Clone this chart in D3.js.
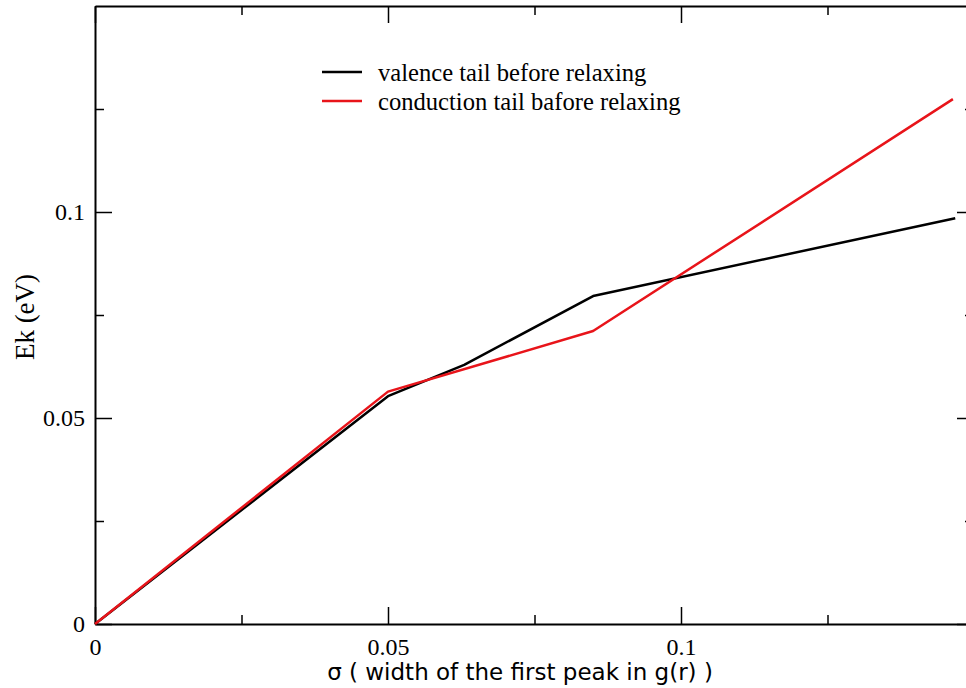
<!DOCTYPE html>
<html>
<head>
<meta charset="utf-8">
<script src="https://cdn.jsdelivr.net/npm/d3@7"></script>
<style>
  body { margin: 0; background: #fff; }
  svg { display: block; }
</style>
</head>
<body>
<script>
var w = 966; // canvas width
var h = 688; // canvas height

// series data: sigma (x) and Ek in eV (y)
var valenceX = [0, 0.05, 0.063, 0.085, 0.1468];
var valenceY = [0, 0.0553, 0.0629, 0.0796, 0.0985];
var conductionX = [0, 0.05, 0.085, 0.1464];
var conductionY = [0, 0.0564, 0.0711, 0.1274];

var seriesNames = ["valence tail before relaxing", "conduction tail bafore relaxing"];
var seriesColors = ["#000000", "#e8141a"];

var xMajor = [0, 0.05, 0.1];
var xMinor = [0.025, 0.075, 0.125];
var yMajor = [0, 0.05, 0.1];
var yMinor = [0.025, 0.075, 0.125];

var xScale = d3.scaleLinear().domain([0, 0.15]).range([95, 974]);
var yScale = d3.scaleLinear().domain([0, 0.15]).range([624, 6]);

var svg = d3.select("body").append("svg")
    .attr("width", w)
    .attr("height", h);

var fmt = function(d) { return d === 0 ? "0" : String(d); };

// bottom axis (ticks pointing inward)
svg.append("g")
    .attr("transform", "translate(0," + yScale(0) + ")")
    .call(d3.axisBottom(xScale).tickValues(xMajor).tickFormat(fmt).tickSizeInner(-17).tickSizeOuter(0).tickPadding(14))
    .call(function(g) {
        g.select(".domain").attr("stroke-width", 2);
        g.selectAll(".tick line").attr("stroke-width", 1.5);
        g.selectAll("text").attr("font-family", "Liberation Serif").attr("font-size", 24).attr("fill", "#000");
    });
svg.append("g")
    .attr("transform", "translate(0," + yScale(0) + ")")
    .call(d3.axisBottom(xScale).tickValues(xMinor).tickFormat("").tickSizeInner(-9).tickSizeOuter(0))
    .call(function(g) { g.select(".domain").remove(); g.selectAll(".tick line").attr("stroke-width", 1.5); });

// left axis
svg.append("g")
    .attr("transform", "translate(" + xScale(0) + ",0)")
    .call(d3.axisLeft(yScale).tickValues(yMajor).tickFormat(fmt).tickSizeInner(-17).tickSizeOuter(0).tickPadding(10))
    .call(function(g) {
        g.select(".domain").attr("stroke-width", 2);
        g.selectAll(".tick line").attr("stroke-width", 1.5);
        g.selectAll("text").attr("font-family", "Liberation Serif").attr("font-size", 24).attr("fill", "#000");
    });
svg.append("g")
    .attr("transform", "translate(" + xScale(0) + ",0)")
    .call(d3.axisLeft(yScale).tickValues(yMinor).tickFormat("").tickSizeInner(-9).tickSizeOuter(0))
    .call(function(g) { g.select(".domain").remove(); g.selectAll(".tick line").attr("stroke-width", 1.5); });

// top and right frame with inward ticks
svg.append("g")
    .attr("transform", "translate(0," + yScale(0.15) + ")")
    .call(d3.axisTop(xScale).tickValues(xMajor).tickFormat("").tickSizeInner(-17).tickSizeOuter(0))
    .call(function(g) { g.select(".domain").attr("stroke-width", 2); g.selectAll(".tick line").attr("stroke-width", 1.5); });
svg.append("g")
    .attr("transform", "translate(0," + yScale(0.15) + ")")
    .call(d3.axisTop(xScale).tickValues(xMinor).tickFormat("").tickSizeInner(-9).tickSizeOuter(0))
    .call(function(g) { g.select(".domain").remove(); g.selectAll(".tick line").attr("stroke-width", 1.5); });
svg.append("g")
    .attr("transform", "translate(" + xScale(0.15) + ",0)")
    .call(d3.axisRight(yScale).tickValues(yMajor).tickFormat("").tickSizeInner(-17).tickSizeOuter(0))
    .call(function(g) { g.select(".domain").attr("stroke-width", 2); g.selectAll(".tick line").attr("stroke-width", 1.5); });
svg.append("g")
    .attr("transform", "translate(" + xScale(0.15) + ",0)")
    .call(d3.axisRight(yScale).tickValues(yMinor).tickFormat("").tickSizeInner(-9).tickSizeOuter(0))
    .call(function(g) { g.select(".domain").remove(); g.selectAll(".tick line").attr("stroke-width", 1.5); });

// lines
var line = d3.line()
    .x(function(d) { return xScale(d[0]); })
    .y(function(d) { return yScale(d[1]); });

var series = [
    d3.zip(valenceX, valenceY),
    d3.zip(conductionX, conductionY)
];

svg.selectAll("path.series")
    .data(series)
    .enter()
    .append("path")
    .attr("class", "series")
    .attr("d", line)
    .attr("fill", "none")
    .attr("stroke", function(d, i) { return seriesColors[i]; })
    .attr("stroke-width", 2.5)
    .attr("stroke-linejoin", "round");

// legend
var legend = svg.append("g").attr("transform", "translate(322,72)");
seriesNames.forEach(function(name, i) {
    legend.append("line")
        .attr("x1", 0).attr("x2", 40)
        .attr("y1", i * 29).attr("y2", i * 29)
        .attr("stroke", seriesColors[i])
        .attr("stroke-width", 2.5);
    legend.append("text")
        .attr("x", 56).attr("y", i * 29)
        .attr("dy", "0.35em")
        .attr("font-family", "Liberation Serif")
        .attr("font-size", 24.6)
        .text(name);
});

// axis labels
svg.append("text")
    .attr("text-anchor", "middle")
    .attr("x", 520)
    .attr("y", 680)
    .attr("font-family", "DejaVu Sans")
    .attr("font-size", 23)
    .text("σ ( width of the first peak in g(r) )");

svg.append("text")
    .attr("text-anchor", "middle")
    .attr("transform", "translate(34,317) rotate(-90)")
    .attr("font-family", "Liberation Serif")
    .attr("font-size", 27)
    .text("Ek (eV)");
</script>
</body>
</html>
